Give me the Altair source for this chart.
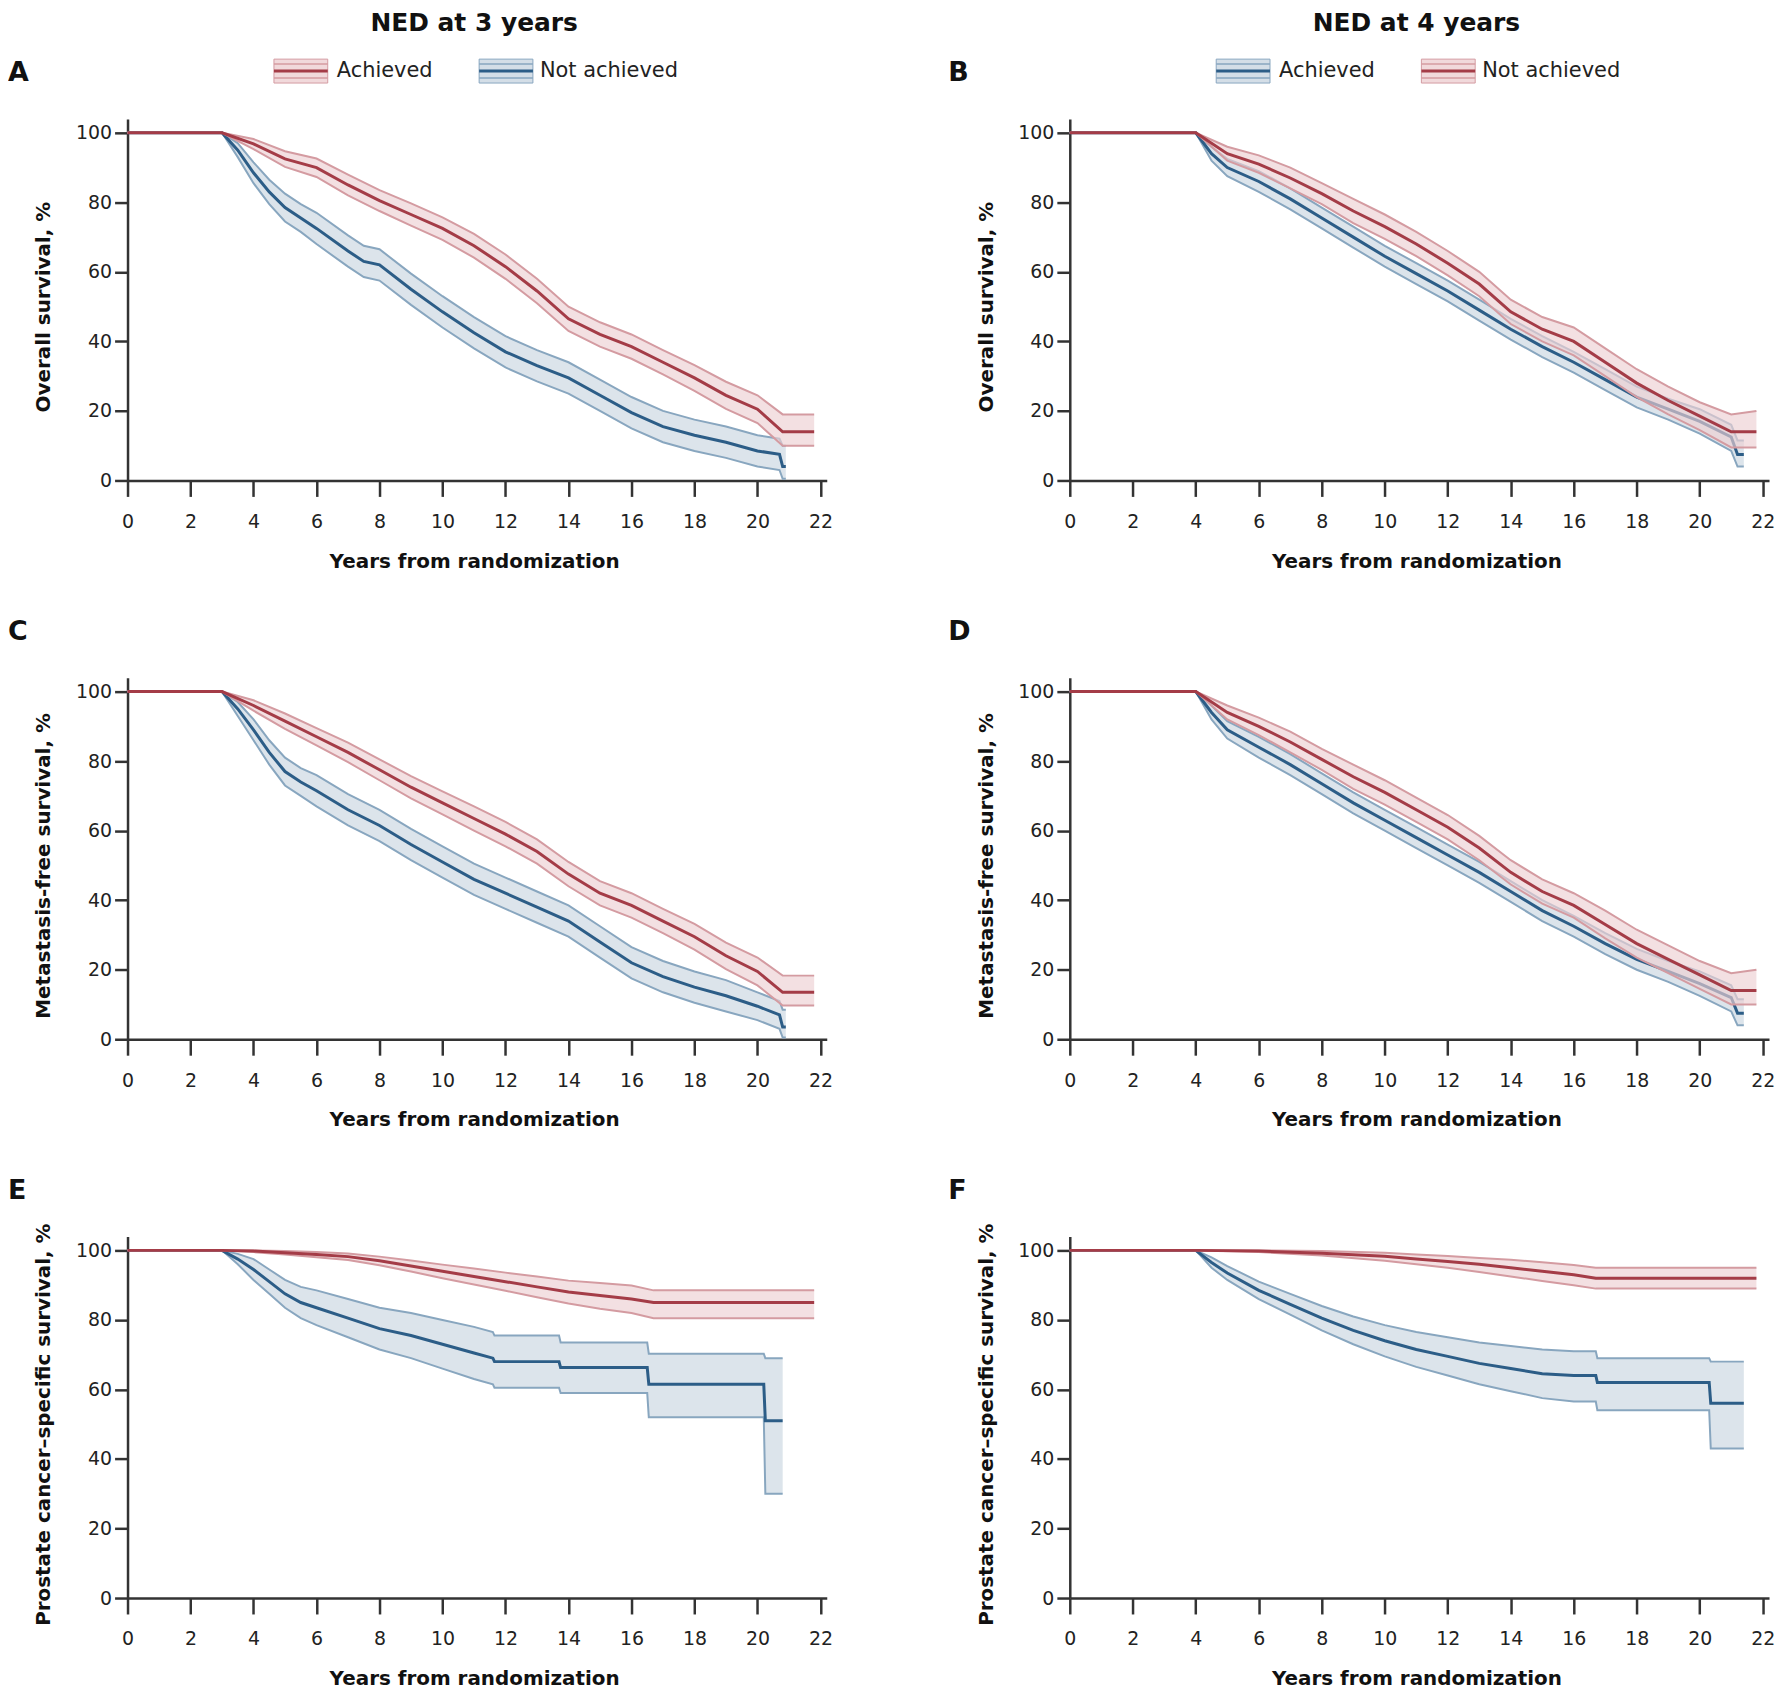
import altair as alt
import pandas as pd

# ---------------- data ----------------
# Panel A: Overall survival, NED at 3 years
A_red_T = [0, 3, 4, 5, 6, 7, 8, 9, 10, 11, 12, 13, 14, 15, 16, 17, 18, 19, 20, 20.8, 21.8]
A_red_E = [100, 100, 96.8, 92.5, 90, 85, 80.5, 76.5, 72.5, 67.5, 61.5, 54.5, 46.5, 42, 38.5, 34, 29.5, 24.5, 20.5, 14, 14]
A_red_L = [100, 100, 95.3, 90.2, 87.3, 82, 77.5, 73.3, 69.2, 64.1, 58, 51, 43, 38.5, 35, 30.5, 25.8, 20.6, 16.5, 10, 10]
A_red_U = [100, 100, 98.2, 94.7, 92.6, 88, 83.5, 79.7, 75.7, 70.9, 65, 58, 50, 45.5, 42, 37.5, 33.2, 28.4, 24.5, 19, 19]

A_blue_T = [0, 3, 3.5, 4, 4.5, 5, 5.5, 6, 7, 7.5, 8, 9, 10, 11, 12, 13, 14, 15, 16, 17, 18, 19, 20, 20.7, 20.8, 20.9]
A_blue_E = [100, 100, 95, 88.5, 83, 78.5, 75.5, 72.5, 66, 63, 62, 55, 48.5, 42.5, 37, 33, 29.5, 24.5, 19.5, 15.5, 13, 11, 8.5, 7.5, 4, 4]
A_blue_L = [100, 100, 93, 85.5, 79.5, 74.5, 71.5, 68, 61.5, 58.5, 57.5, 50.5, 44, 38, 32.5, 28.5, 25, 20, 15, 11, 8.5, 6.5, 4, 3, 0.5, 0.5]
A_blue_U = [100, 100, 97, 91.5, 86.5, 82.5, 79.5, 77, 70.5, 67.5, 66.5, 59.5, 53, 47, 41.5, 37.5, 34, 29, 24, 20, 17.5, 15.5, 13, 12, 10, 10]

# Panel B: Overall survival, NED at 4 years
B_red_T = [0, 4, 5, 6, 7, 8, 9, 10, 11, 12, 13, 14, 15, 16, 17, 18, 19, 20, 21, 21.8]
B_red_E = [100, 100, 94, 91, 87, 82.5, 77.5, 73, 68, 62.5, 56.5, 48.5, 43.5, 40, 34, 28, 23, 18.5, 14, 14]
B_red_L = [100, 100, 92, 88.5, 84, 79.5, 74, 69.5, 64.5, 59, 53, 45, 40, 36, 30, 24, 19, 14.5, 9.5, 9.5]
B_red_U = [100, 100, 96, 93.5, 90, 85.5, 81, 76.5, 71.5, 66, 60, 52, 47, 44, 38, 32, 27, 22.5, 19, 20]

B_blue_T = [0, 4, 4.5, 5, 6, 7, 8, 9, 10, 11, 12, 13, 14, 15, 16, 17, 18, 19, 20, 21, 21.2, 21.4]
B_blue_E = [100, 100, 94, 90, 86, 81, 75.5, 70, 64.5, 59.5, 54.5, 49, 43.5, 38.5, 34, 29, 24, 20.5, 17, 12.5, 7.5, 7.5]
B_blue_L = [100, 100, 92, 87.5, 83, 78, 72.5, 67, 61.5, 56.5, 51.5, 46, 40.5, 35.5, 31, 26, 21, 17.5, 13.5, 8.5, 4, 4]
B_blue_U = [100, 100, 96, 92.5, 89, 84, 78.5, 73, 67.5, 62.5, 57.5, 52, 46.5, 41.5, 37, 32, 27, 23.5, 20.5, 16, 11.5, 11.5]

# Panel C: Metastasis-free survival, NED at 3 years
C_red_T = [0, 3, 4, 5, 6, 7, 8, 9, 10, 11, 12, 13, 14, 15, 16, 17, 18, 19, 20, 20.8, 21.8]
C_red_E = [100, 100, 96, 91.5, 87, 82.5, 77.5, 72.5, 68, 63.5, 59, 54, 47.5, 42, 38.5, 34, 29.5, 24, 19.5, 13.5, 13.5]
C_red_L = [100, 100, 94.5, 89.3, 84.5, 79.7, 74.5, 69.3, 64.7, 60, 55.5, 50.5, 44, 38.5, 35, 30.5, 25.8, 20.2, 15.5, 9.7, 9.7]
C_red_U = [100, 100, 97.5, 93.7, 89.5, 85.3, 80.5, 75.7, 71.3, 67, 62.5, 57.5, 51, 45.5, 42, 37.5, 33.2, 27.8, 23.5, 18.3, 18.3]

C_blue_T = [0, 3, 3.5, 4, 4.5, 5, 5.5, 6, 7, 8, 9, 10, 11, 12, 13, 14, 15, 16, 17, 18, 19, 20, 20.7, 20.8, 20.9]
C_blue_E = [100, 100, 95, 89, 82.5, 77, 74, 71.5, 66, 61.5, 56, 51, 46, 42, 38, 34, 28, 22, 18, 15, 12.5, 9.5, 7, 3.5, 3.5]
C_blue_L = [100, 100, 93, 86, 79, 73, 70, 67, 61.5, 57, 51.5, 46.5, 41.5, 37.5, 33.5, 29.5, 23.5, 17.5, 13.5, 10.5, 8, 5.5, 3, 0.5, 0.5]
C_blue_U = [100, 100, 97, 92, 86, 81, 78, 76, 70.5, 66, 60.5, 55.5, 50.5, 46.5, 42.5, 38.5, 32.5, 26.5, 22.5, 19.5, 17, 13.5, 11, 8.5, 8.5]

# Panel D: Metastasis-free survival, NED at 4 years
D_red_T = [0, 4, 5, 6, 7, 8, 9, 10, 11, 12, 13, 14, 15, 16, 17, 18, 19, 20, 21, 21.8]
D_red_E = [100, 100, 94, 90, 85.5, 80.5, 75.5, 71, 66, 61, 55, 48, 42.5, 38.5, 33, 27.5, 23, 18.5, 14, 14]
D_red_L = [100, 100, 92, 87.5, 82.5, 77.5, 72, 67.5, 62.5, 57.5, 51.5, 44.5, 39, 35, 29, 23.5, 19, 14.5, 10, 10]
D_red_U = [100, 100, 96, 92.5, 88.5, 83.5, 79, 74.5, 69.5, 64.5, 58.5, 51.5, 46, 42, 37, 31.5, 27, 22.5, 19, 20]

D_blue_T = [0, 4, 4.5, 5, 6, 7, 8, 9, 10, 11, 12, 13, 14, 15, 16, 17, 18, 19, 20, 21, 21.2, 21.4]
D_blue_E = [100, 100, 94, 89, 84, 79, 73.5, 68, 63, 58, 53, 48, 42.5, 37, 32.5, 27.5, 23, 19.5, 16, 12, 7.5, 7.5]
D_blue_L = [100, 100, 92, 86.5, 81, 76, 70.5, 65, 60, 55, 50, 45, 39.5, 34, 29.5, 24.5, 20, 16.5, 12.5, 8, 4, 4]
D_blue_U = [100, 100, 96, 91.5, 87, 82, 76.5, 71, 66, 61, 56, 51, 45.5, 40, 35.5, 30.5, 26, 22.5, 19.5, 15.5, 11.5, 11.5]

# Panel E: Prostate cancer-specific survival, NED at 3 years
E_red_T = [0, 3, 4, 5, 6, 7, 8, 9, 10, 11, 12, 13, 14, 15, 16, 16.7, 21.8]
E_red_E = [100, 100, 99.8, 99.3, 98.8, 98.2, 97, 95.5, 94, 92.5, 91, 89.5, 88, 87, 86, 85, 85]
E_red_L = [100, 100, 99.5, 98.8, 98, 97.2, 95.7, 93.9, 92, 90.2, 88.4, 86.5, 84.7, 83.2, 82, 80.5, 80.5]
E_red_U = [100, 100, 100, 99.8, 99.5, 99.1, 98.2, 97.1, 95.9, 94.8, 93.6, 92.5, 91.3, 90.6, 89.9, 88.5, 88.5]

E_blue_T = [0, 3, 3.5, 4, 4.5, 5, 5.5, 6, 7, 8, 9, 10, 11, 11.6, 11.65, 13.7, 13.75, 16.5, 16.55, 20.2, 20.25, 20.8]
E_blue_E = [100, 100, 97.5, 94.5, 91, 87.5, 85, 83.5, 80.5, 77.5, 75.5, 73, 70.5, 69, 68, 68, 66.3, 66.3, 61.5, 61.5, 51, 51]
E_blue_L = [100, 100, 96, 91.5, 87.5, 83.5, 80.5, 78.5, 75, 71.5, 69, 66, 63, 61.5, 60.5, 60.5, 59, 59, 52, 52, 30, 30]
E_blue_U = [100, 100, 99, 97.5, 94.5, 91.5, 89.5, 88.5, 86, 83.5, 82, 80, 78, 76.5, 75.5, 75.5, 73.5, 73.5, 70.3, 70.3, 69, 69]

# Panel F: Prostate cancer-specific survival, NED at 4 years
F_red_T = [0, 4, 6, 8, 10, 11, 12, 13, 14, 15, 16, 16.7, 21.8]
F_red_E = [100, 100, 99.8, 99.2, 98.3, 97.5, 96.8, 96, 95, 94, 93, 92, 92]
F_red_L = [100, 100, 99.5, 98.5, 97, 96, 95, 93.8, 92.5, 91.2, 90, 89, 89]
F_red_U = [100, 100, 100, 99.8, 99.3, 98.8, 98.4, 97.8, 97.3, 96.6, 95.8, 95, 95]

F_blue_T = [0, 4, 4.5, 5, 6, 7, 8, 9, 10, 11, 12, 13, 14, 15, 16, 16.7, 16.75, 20.3, 20.35, 21.4]
F_blue_E = [100, 100, 96.5, 93.5, 88.5, 84.5, 80.5, 77, 74, 71.5, 69.5, 67.5, 66, 64.5, 64, 64, 62, 62, 56, 56]
F_blue_L = [100, 100, 95, 91.5, 86, 81.5, 77, 73, 69.5, 66.5, 64, 61.5, 59.5, 57.5, 56.5, 56.5, 54, 54, 43, 43]
F_blue_U = [100, 100, 98, 95.5, 91, 87.5, 84, 81, 78.5, 76.5, 75, 73.5, 72.5, 71.5, 71, 71, 69, 69, 68, 68]

X_TICKS = [0, 2, 4, 6, 8, 10, 12, 14, 16, 18, 20, 22]
Y_TICKS = [0, 20, 40, 60, 80, 100]
COL_TITLES = ["NED at 3 years", "NED at 4 years"]
Y_TITLES = ["Overall survival, %", "Metastasis-free survival, %", "Prostate cancer\u2013specific survival, %"]
LETTERS = ["A", "B", "C", "D", "E", "F"]
GROUP_LABELS = ["Achieved", "Not achieved"]

# ---------------- styling ----------------
FONT = "DejaVu Sans"
RED = {"dark": "#A43C47", "ci": "#D49BA1", "fill": "#EDCFD2"}
BLUE = {"dark": "#2C5D87", "ci": "#88A6BF", "fill": "#C9D6E1"}

XMAX = 22.2
YMAX = 104
W = 702
H = 363
AX = "#333333"


def xenc(field):
    return alt.X(field, type="quantitative",
                 scale=alt.Scale(domain=[0, XMAX], nice=False, zero=False),
                 axis=alt.Axis(values=X_TICKS, title="Years from randomization",
                               titleX=348, titleY=81, titleAlign="center", titleBaseline="middle",
                               titleFont=FONT, titleFontSize=20, titleFontWeight="bold", titleColor="#111",
                               labelFont=FONT, labelFontSize=19, labelColor="#222", labelFlush=False,
                               labelPadding=16, tickSize=16, tickWidth=2.5, tickColor=AX,
                               domainWidth=2.5, domainColor=AX, grid=False, labelOverlap=False))


def yenc(field, title):
    return alt.Y(field, type="quantitative",
                 scale=alt.Scale(domain=[0, YMAX], nice=False),
                 axis=alt.Axis(values=Y_TICKS, title=title,
                               titleX=-84, titleY=H * (YMAX - 50) / YMAX, titleAngle=270,
                               titleAlign="center", titleBaseline="middle",
                               titleFont=FONT, titleFontSize=20, titleFontWeight="bold", titleColor="#111",
                               labelFont=FONT, labelFontSize=19, labelColor="#222", labelPadding=3,
                               tickSize=13, tickWidth=2.5, tickColor=AX,
                               domainWidth=2.5, domainColor=AX, grid=False))


def group_layers(T, E, L, U, col, ytitle):
    df = pd.DataFrame({"t": T, "est": E, "lo": L, "hi": U, "i": list(range(len(T)))})
    base = alt.Chart(df)
    band = base.mark_area(color=col["fill"], fillOpacity=0.65, strokeWidth=0).encode(
        x=xenc("t"), y=yenc("lo", ytitle), y2="hi")
    lo = base.mark_line(color=col["ci"], strokeWidth=2).encode(
        x=xenc("t"), y=yenc("lo", ytitle), order="i:Q")
    hi = base.mark_line(color=col["ci"], strokeWidth=2).encode(
        x=xenc("t"), y=yenc("hi", ytitle), order="i:Q")
    est = base.mark_line(color=col["dark"], strokeWidth=3).encode(
        x=xenc("t"), y=yenc("est", ytitle), order="i:Q")
    return [band, lo, hi, est]


def one():
    return alt.Chart(alt.Data(values=[{}]))


def legend_layers(cols):
    out = []
    xs = [(147, 201, 210), (353, 407, 414)]
    for (x1, x2, xt), col, lab in zip(xs, cols, GROUP_LABELS):
        out.append(one().mark_rect(fill=col["fill"], fillOpacity=0.8, stroke=col["ci"], strokeWidth=1).encode(
            x=alt.value(x1), x2=alt.value(x2), y=alt.value(-60), y2=alt.value(-36)))
        for yy in (-55, -41):
            out.append(one().mark_rule(color=col["ci"], strokeWidth=1.5).encode(
                x=alt.value(x1), x2=alt.value(x2), y=alt.value(yy)))
        out.append(one().mark_rule(color=col["dark"], strokeWidth=3).encode(
            x=alt.value(x1), x2=alt.value(x2), y=alt.value(-48)))
        out.append(one().mark_text(text=lab, align="left", baseline="middle", fontSize=21,
                                   font=FONT, color="#222").encode(
            x=alt.value(xt), y=alt.value(-48)))
    return out


def panel(red, blue, ytitle, letter, letter_x, title=None, legend_cols=None):
    layers = []
    layers += group_layers(*blue, BLUE, ytitle)
    layers += group_layers(*red, RED, ytitle)
    layers.append(one().mark_text(text=letter, align="left", baseline="middle", fontSize=27,
                                  fontWeight="bold", font=FONT, color="#111").encode(
        x=alt.value(letter_x), y=alt.value(-46)))
    if title:
        layers.append(one().mark_text(text=title, align="center", baseline="middle", fontSize=25,
                                      fontWeight="bold", font=FONT, color="#111").encode(
            x=alt.value(348), y=alt.value(-96)))
    if legend_cols:
        layers += legend_layers(legend_cols)
    return alt.layer(*layers).properties(width=W, height=H)


pA = panel((A_red_T, A_red_E, A_red_L, A_red_U), (A_blue_T, A_blue_E, A_blue_L, A_blue_U),
           Y_TITLES[0], LETTERS[0], -120, COL_TITLES[0], [RED, BLUE])
pB = panel((B_red_T, B_red_E, B_red_L, B_red_U), (B_blue_T, B_blue_E, B_blue_L, B_blue_U),
           Y_TITLES[0], LETTERS[1], -122, COL_TITLES[1], [BLUE, RED])
pC = panel((C_red_T, C_red_E, C_red_L, C_red_U), (C_blue_T, C_blue_E, C_blue_L, C_blue_U),
           Y_TITLES[1], LETTERS[2], -120)
pD = panel((D_red_T, D_red_E, D_red_L, D_red_U), (D_blue_T, D_blue_E, D_blue_L, D_blue_U),
           Y_TITLES[1], LETTERS[3], -122)
pE = panel((E_red_T, E_red_E, E_red_L, E_red_U), (E_blue_T, E_blue_E, E_blue_L, E_blue_U),
           Y_TITLES[2], LETTERS[4], -120)
pF = panel((F_red_T, F_red_E, F_red_L, F_red_U), (F_blue_T, F_blue_E, F_blue_L, F_blue_U),
           Y_TITLES[2], LETTERS[5], -122)

chart = alt.concat(pA, pB, pC, pD, pE, pF, columns=2,
                   spacing={"row": 198, "column": 244}, bounds="flush").properties(
    padding=0
).configure(font=FONT).configure_view(stroke=None)

chart.save("out.html", embed_options={"renderer": "svg", "actions": False})
